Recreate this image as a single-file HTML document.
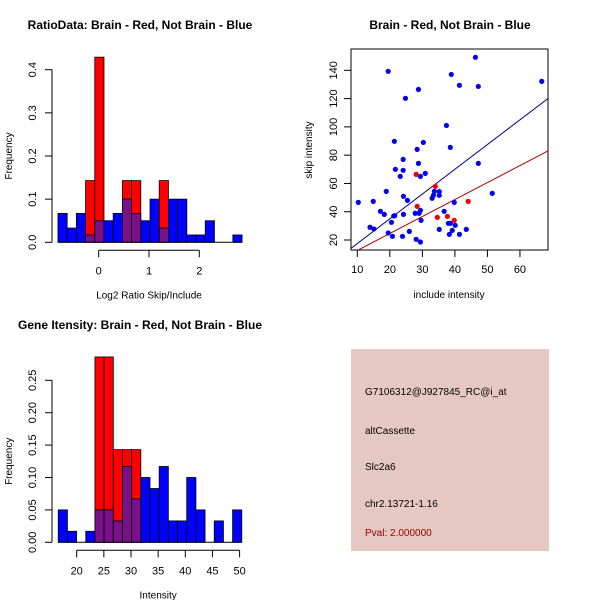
<!DOCTYPE html>
<html><head><meta charset="utf-8"><style>
body{margin:0;background:#fff;}
svg text{font-family:"Liberation Sans",sans-serif;fill:#000;}
</style></head><body>
<svg id="s" width="600" height="600" xmlns="http://www.w3.org/2000/svg">
<rect width="600" height="600" fill="#fff"/>
</svg>
<script>
// ---- data ----
const ratioRedFreq=[0,0,0,0.143,0.429,0,0,0.143,0.143,0,0,0.143,0,0,0,0,0,0,0,0];
const ratioBlueFreq=[0.067,0.033,0.067,0.017,0.05,0.05,0.067,0.1,0.067,0.05,0.1,0.033,0.1,0.1,0.017,0.017,0.05,0,0,0.017];
const ratioStart=-0.81, ratioBin=0.183;
const ratioXTicks=[0,1,2];
const ratioYTicks=[0,0.1,0.2,0.3,0.4];
const intRedFreq=[0,0,0,0,0.286,0.286,0.143,0.143,0.143,0,0,0,0,0,0,0,0,0,0,0];
const intBlueFreq=[0.05,0.017,0,0.017,0.05,0.05,0.033,0.117,0.067,0.1,0.083,0.117,0.033,0.033,0.1,0.05,0,0.033,0,0.05];
const intStart=16.6, intBin=1.69;
const intXTicks=[20,25,30,35,40,45,50];
const intYTicks=[0,0.05,0.10,0.15,0.20,0.25];
const intYLabels=["0.00","0.05","0.10","0.15","0.20","0.25"];
const blueX=[10.3,14.9,13.9,15.1,17.1,18.3,18.9,19.5,19.5,20.5,20.8,21.2,21.5,21.4,21.7,23.2,23.9,24.1,24.1,24.2,24.2,24.8,25.4,26,27.8,28.1,28.4,28.8,28.8,29,29.4,29.4,29.4,29.6,30.3,30.9,33,33.4,33.7,35.2,35.2,35.2,36.7,37.4,38,38.3,38.6,38.9,38.6,39.2,39.8,40.1,41.4,41.4,43.5,46.3,47.2,47.2,51.5,66.7];
const blueY=[46.6,47.3,29,27.8,40.3,38.1,54.4,139.3,25,32.5,22.6,37,37.2,89.8,70,65,22.6,77,69.3,50.9,38.1,120.2,48,26.1,38.9,20.5,84.1,126.5,74.2,38.9,65,41,18.6,33.9,89,67.1,49.5,51.6,54.4,54.2,51.6,27.5,40.3,101,31.8,24,85.5,137.1,31.8,26.8,46.6,30.4,129.4,24,27.5,149.2,128.6,74.2,53,132.2];
const redX=[28.1,28.4,34,34.6,37.7,39.8,44.1];
const redY=[66.4,43.8,57.9,36,36.7,33.9,47.3];
const blueSlope=1.75, blueIntercept=0, redSlope=1.2, redIntercept=0.6;
const scXTicks=[10,20,30,40,50,60];
const scYTicks=[20,40,60,80,100,120,140];

const S=document.getElementById('s');
const NS='http://www.w3.org/2000/svg';
function el(tag,attrs,parent){const e=document.createElementNS(NS,tag);for(const k in attrs)e.setAttribute(k,attrs[k]);(parent||S).appendChild(e);return e;}
function txt(x,y,s,size,anchor,rot,fill,weight){const t=el('text',{x:x,y:y,'font-size':size,'text-anchor':anchor||'middle'});if(rot)t.setAttribute('transform','rotate(-90 '+x+' '+y+')');if(fill)t.setAttribute('style','fill:'+fill);if(weight)t.setAttribute('font-weight',weight);t.textContent=s;return t;}

function hist(title,ty,red,blue,start,bin,xs,ys,xticks,yticks,ylabels,xlabel,yTickLen){
  const g=el('g',{});
  
  
  const t=txt(140,ty,title,12,'middle',false,null,'bold');
  
  
  g.appendChild(t);
  for(let i=0;i<blue.length;i++){
    const x0=xs.x(start+i*bin),x1=xs.x(start+(i+1)*bin);
    const r=red[i],b=blue[i];
    if(r>0){const rr=el('rect',{x:x0,y:ys(r),width:x1-x0,height:ys(0)-ys(r),fill:'#ff0000',stroke:'#000','stroke-width':0.8},g);
      
      }
    if(b>0){const bb=el('rect',{x:x0,y:ys(b),width:x1-x0,height:ys(0)-ys(b),fill:r>0?'#7a108a':'#0000ff',stroke:'#000','stroke-width':0.8},g);
      
      }
  }
  // y axis
  const yb=ys(0);
  el('line',{x1:52,x2:52,y1:ys(yticks[0]),y2:ys(yticks[yticks.length-1]),stroke:'#000'},g);
  yticks.forEach((v,i)=>{el('line',{x1:45,x2:52,y1:ys(v),y2:ys(v),stroke:'#000'},g);txt(36,ys(v),ylabels[i],11,'middle',true).setAttribute('dominant-baseline','auto');});
  el('line',{x1:xs.x(start),x2:xs.x(start+blue.length*bin),y1:yb,y2:yb,stroke:'#000'},g);
  // x axis
  const axY=yb+8;
  el('line',{x1:xs.x(xticks[0]),x2:xs.x(xticks[xticks.length-1]),y1:axY,y2:axY,stroke:'#000'},g);
  xticks.forEach(v=>{el('line',{x1:xs.x(v),x2:xs.x(v),y1:axY,y2:axY+7,stroke:'#000'},g);txt(xs.x(v),axY+24,String(v),11);});
  txt(xs.x((xticks[0]+xticks[xticks.length-1])/2)+ (title.startsWith('Ratio')?0:0),yb+56,xlabel,10);
  txt(12,(ys(0)+ys(yticks[yticks.length-1]))/2,'Frequency',10,'middle',true);
}
// ratio
const rX={x:v=>98.7+(v)*50.3};
const rY=v=>242.3-v*431.5;
hist('RatioData: Brain - Red, Not Brain - Blue',29,ratioRedFreq,ratioBlueFreq,ratioStart,ratioBin,rX,rY,ratioXTicks,ratioYTicks,ratioYTicks.map(String).map(s=>s==='0'?'0.0':s),'Log2 Ratio Skip/Include');
// intensity
const iX={x:v=>76.7+(v-20)*5.43};
const iY=v=>542.3-v*648;
hist('Gene Itensity: Brain - Red, Not Brain - Blue',329,intRedFreq,intBlueFreq,intStart,intBin,iX,iY,intXTicks,intYTicks,intYLabels,'Intensity');

// scatter
const sx=v=>357.3+(v-10)*3.253;
const sy=v=>240-(v-20)*1.414;
const sg=el('g',{});


const st=txt(450,29,'Brain - Red, Not Brain - Blue',12,'middle',false,null,'bold');


el('defs',{}).innerHTML='<clipPath id="cp"><rect x="351" y="49" width="197" height="201"/></clipPath>';
el('rect',{x:351,y:49,width:197,height:201,fill:'none',stroke:'#000'},sg);
scXTicks.forEach(v=>{el('line',{x1:sx(v),x2:sx(v),y1:250,y2:257,stroke:'#000'},sg);txt(sx(v),273,String(v),11);});
scYTicks.forEach(v=>{el('line',{x1:344,x2:351,y1:sy(v),y2:sy(v),stroke:'#000'},sg);txt(337,sy(v),String(v),11,'middle',true);});
txt(449,298,'include intensity',10);
txt(312,150,'skip intensity',10,'middle',true);
const lg=el('g',{'clip-path':'url(#cp)'},sg);
const bl=el('line',{x1:sx(0),y1:sy(blueIntercept),x2:sx(80),y2:sy(blueIntercept+blueSlope*80),stroke:'#00008b','stroke-width':1},lg);


const rl=el('line',{x1:sx(0),y1:sy(redIntercept),x2:sx(80),y2:sy(redIntercept+redSlope*80),stroke:'#b00000','stroke-width':1},lg);


blueX.forEach((v,i)=>{const c=el('circle',{cx:sx(v),cy:sy(blueY[i]),r:2.6,fill:'#0000ee'},sg);
  
  });
redX.forEach((v,i)=>{const c=el('circle',{cx:sx(v),cy:sy(redY[i]),r:2.6,fill:'#ee0000'},sg);
  
  });

// info box
const ib=el('g',{});


el('rect',{x:351,y:349,width:198,height:202,fill:'#e6c8c2'},ib);
const lines=[['G7106312@J927845_RC@i_at',395],['altCassette',434],['Slc2a6',470],['chr2.13721-1.16',507],['Pval: 2.000000',536]];
lines.forEach((l,i)=>{const t=txt(365,l[1],l[0],10,'start',false,i===4?'#a00000':null);
  
  });
</script>
</body></html>
